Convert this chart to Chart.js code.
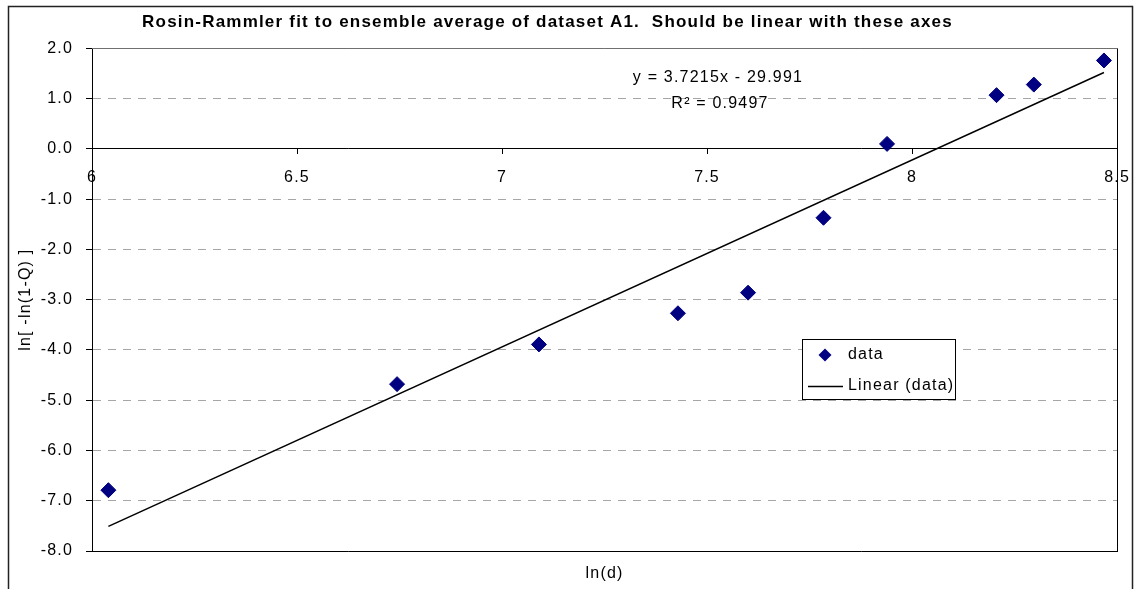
<!DOCTYPE html>
<html><head><meta charset="utf-8">
<script src="https://cdn.jsdelivr.net/npm/chart.js@4/dist/chart.umd.min.js"></script>
<style>html,body{margin:0;padding:0;background:#fff}canvas{display:block}</style>
</head><body>
<canvas id="c" width="1144" height="589"></canvas>
<script>
const chartTitle = 'Rosin-Rammler fit to ensemble average of dataset A1.  Should be linear with these axes';
const xTitle = 'ln(d)';
const yTitle = 'ln[ -ln(1-Q) ]';
const lnD   = [6.04, 6.744, 7.09, 7.429, 7.60, 7.784, 7.939, 8.206, 8.297, 8.468];
const lnLnQ = [-6.79, -4.68, -3.89, -3.27, -2.86, -1.37, 0.10, 1.07, 1.28, 1.76];
const trendX = [6.04, 8.468];
const trendY = [-7.51, 1.52];
const equationLines = ['y = 3.7215x - 29.991', 'R\u00B2 = 0.9497'];
const legendLabels = ['data', 'Linear (data)'];
const xTicks = [6, 6.5, 7, 7.5, 8, 8.5];
const yTicks = [2, 1, 0, -1, -2, -3, -4, -5, -6, -7, -8];

const FONT = "'Liberation Sans', Arial, sans-serif";
const LS = '1.2px';
const MARK = '#000080';

Chart.defaults.font.family = FONT;
Chart.defaults.font.size = 16;
Chart.defaults.color = '#000';

const spacingPlugin = {
  id: 'spacing',
  afterInit(c) { c.ctx.letterSpacing = LS; },
  beforeUpdate(c) { c.ctx.letterSpacing = LS; },
  afterLayout(c) {
    if (c.titleBlock) { c.titleBlock.left = 0; c.titleBlock.right = 1095; }
  },
  beforeDraw(c) { c.ctx.letterSpacing = LS; }
};

const framePlugin = {
  id: 'frame',
  beforeDraw(c) {
    const ctx = c.ctx;
    ctx.save();
    ctx.fillStyle = '#fff';
    ctx.fillRect(0, 0, c.width, c.height);
    ctx.strokeStyle = '#222';
    ctx.lineWidth = 1.5;
    ctx.strokeRect(8.5, 6.5, 1124, 620);
    ctx.restore();
  },
  afterDraw(c) {
    const ctx = c.ctx, a = c.chartArea;
    ctx.save();
    ctx.lineWidth = 1;
    ctx.strokeStyle = '#707070';
    ctx.beginPath(); ctx.moveTo(a.left, Math.round(a.top) + 0.5); ctx.lineTo(a.right, Math.round(a.top) + 0.5); ctx.stroke();
    ctx.strokeStyle = '#000';
    ctx.beginPath(); ctx.moveTo(Math.round(a.right) + 0.5, a.top); ctx.lineTo(Math.round(a.right) + 0.5, a.bottom); ctx.stroke();

    // trendline equation
    ctx.letterSpacing = LS;
    ctx.font = '16px ' + FONT;
    ctx.fillStyle = '#000';
    ctx.textAlign = 'center';
    ctx.textBaseline = 'middle';
    ctx.fillText(equationLines[0], 718, 78);
    ctx.fillText(equationLines[1], 720, 104);

    // legend
    const lx = 802, ly = 339, lw = 153, lh = 60;
    ctx.fillStyle = '#fff';
    ctx.fillRect(lx, ly, lw, lh);
    ctx.strokeStyle = '#000';
    ctx.lineWidth = 1;
    ctx.strokeRect(lx + 0.5, ly + 0.5, lw, lh);
    const ds = c.data.datasets;
    ctx.fillStyle = ds[0].backgroundColor;
    ctx.beginPath();
    const dx = 825, dy = 355, r = 6.5;
    ctx.moveTo(dx, dy - r); ctx.lineTo(dx + r, dy); ctx.lineTo(dx, dy + r); ctx.lineTo(dx - r, dy); ctx.closePath();
    ctx.fill();
    ctx.strokeStyle = ds[1].borderColor;
    ctx.lineWidth = 1.5;
    ctx.beginPath(); ctx.moveTo(808, 386.5); ctx.lineTo(843, 386.5); ctx.stroke();
    ctx.fillStyle = '#000';
    ctx.textAlign = 'left';
    ctx.fillText(legendLabels[0], 848, 355);
    ctx.fillText(legendLabels[1], 848, 386);
    ctx.restore();
  }
};

new Chart(document.getElementById('c'), {
  type: 'scatter',
  data: {
    datasets: [
      {
        label: legendLabels[0],
        data: lnD.map((x, i) => ({ x: x, y: lnLnQ[i] })),
        pointStyle: 'rectRot',
        pointRadius: 7.5,
        pointHoverRadius: 7.5,
        backgroundColor: MARK,
        borderColor: MARK,
        borderWidth: 1,
        showLine: false,
        order: 1
      },
      {
        label: legendLabels[1],
        data: trendX.map((x, i) => ({ x: x, y: trendY[i] })),
        showLine: true,
        borderColor: '#000',
        backgroundColor: '#000',
        borderWidth: 1.5,
        pointRadius: 0,
        order: 2
      }
    ]
  },
  options: {
    responsive: false,
    animation: false,
    devicePixelRatio: 1,
    layout: { padding: { left: 0, right: 26, top: 0, bottom: 0 } },
    plugins: {
      legend: { display: false },
      tooltip: { enabled: false },
      title: {
        display: true,
        text: chartTitle,
        color: '#000',
        font: { size: 17, weight: 'bold' },
        padding: { top: 12, bottom: 16 }
      }
    },
    scales: {
      x: {
        type: 'linear', position: 'bottom', min: 6, max: 8.5,
        ticks: { display: false },
        grid: { display: false, drawTicks: false },
        border: { color: '#000', width: 1 },
        title: { display: true, text: xTitle, color: '#000', font: { size: 16 }, padding: { top: 12, bottom: 6 } },
        afterFit(s) { s.height = 38; }
      },
      x2: {
        type: 'linear', axis: 'x', position: { y: 0 }, min: 6, max: 8.5,
        afterBuildTicks(s) { s.ticks = xTicks.map(v => ({ value: v })); },
        ticks: { color: '#000', font: { size: 16 }, padding: 14, maxRotation: 0, autoSkip: false, callback: v => String(v) },
        grid: { drawOnChartArea: false, tickLength: 5, tickColor: '#000' },
        border: { color: '#000', width: 1 }
      },
      y: {
        type: 'linear', position: 'left', min: -8, max: 2,
        afterBuildTicks(s) { s.ticks = yTicks.map(v => ({ value: v })); },
        ticks: { color: '#000', font: { size: 16 }, padding: 13, callback: v => Number(v).toFixed(1) },
        grid: { color: '#a6a6a6', lineWidth: 1, tickColor: '#000', tickLength: 6, tickBorderDash: [] },
        border: { color: '#000', width: 1, dash: [8, 7] },
        title: { display: true, text: yTitle, color: '#000', font: { size: 16 }, padding: { top: 16, bottom: 0 } },
        afterFit(s) { s.width = 92; s.paddingTop = 0; s.paddingBottom = 0; }
      }
    }
  },
  plugins: [spacingPlugin, framePlugin]
});
</script>
</body></html>
